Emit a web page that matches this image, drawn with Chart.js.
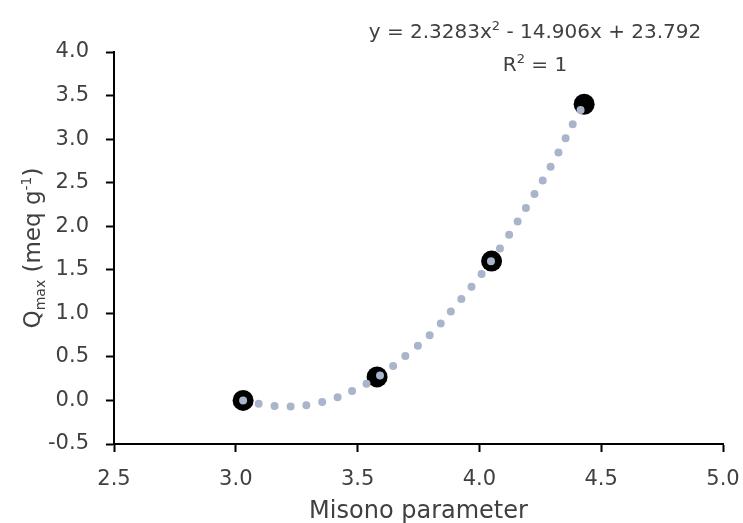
<!DOCTYPE html>
<html lang="en">
<head>
    <meta charset="UTF-8">
    <title>Qmax vs Misono parameter</title>
    <style>
        body {
            margin: 0;
            background-color: #FFFFFF;
        }
        #chartBox {
            width: 743px;
            height: 523px;
        }
    </style>
    <script src="https://cdn.jsdelivr.net/npm/chart.js"></script>
</head>
<body>
    <div id="chartBox">
        <canvas id="myChart"></canvas>
    </div>

    <script>
        // Messpunkte
        var misono = [3.03, 3.58, 4.05, 4.43];
        var qmax = [0.00, 0.27, 1.60, 3.40];

        var trendX = [3.03, 3.10, 3.20, 3.30, 3.40, 3.50, 3.60, 3.70, 3.80, 3.90, 4.00, 4.10, 4.20, 4.30, 4.40, 4.43];
        var trendY = [0.00, -0.04, -0.07, -0.05, 0.02, 0.14, 0.30, 0.52, 0.76, 1.08, 1.42, 1.81, 2.25, 2.72, 3.26, 3.40];

        // Achsenbeschriftung
        var xTicks = [2.5, 3.0, 3.5, 4.0, 4.5, 5.0];
        var yTicks = [-0.5, 0.0, 0.5, 1.0, 1.5, 2.0, 2.5, 3.0, 3.5, 4.0];

        var FONT = '"DejaVu Sans", sans-serif';
        var TEXT = '#404040';

        // Text mit Hoch-/Tiefstellung zeichnen
        function drawRuns(ctx, runs, x, y, align) {
            var total = 0;
            runs.forEach(function(r) {
                ctx.font = r.size + 'px ' + FONT;
                r.w = ctx.measureText(r.t).width;
                total += r.w;
            });
            var cx = align === 'center' ? x - total / 2 : x;
            ctx.textBaseline = 'alphabetic';
            ctx.textAlign = 'left';
            runs.forEach(function(r) {
                ctx.font = r.size + 'px ' + FONT;
                ctx.fillText(r.t, cx, y + (r.dy || 0));
                cx += r.w;
            });
        }

        var labelPlugin = {
            id: 'labels',
            afterDraw: function(chart) {
                var ctx = chart.ctx;
                var area = chart.chartArea;
                ctx.save();
                ctx.fillStyle = TEXT;

                // Gleichung
                drawRuns(ctx, [
                    {t: 'y = 2.3283x', size: 20},
                    {t: '2', size: 13, dy: -8},
                    {t: ' - 14.906x + 23.792', size: 20}
                ], 535, 38, 'center');
                drawRuns(ctx, [
                    {t: 'R', size: 20},
                    {t: '2', size: 13, dy: -8},
                    {t: ' = 1', size: 20}
                ], 535, 71, 'center');

                // x-Achsentitel
                drawRuns(ctx, [{t: 'Misono parameter', size: 24}], (area.left + area.right) / 2, 518, 'center');

                // y-Achsentitel (gedreht)
                ctx.translate(40, (area.top + area.bottom) / 2);
                ctx.rotate(-Math.PI / 2);
                drawRuns(ctx, [
                    {t: 'Q', size: 23},
                    {t: 'max', size: 14, dy: 5},
                    {t: ' (meq g', size: 23},
                    {t: '-1', size: 14, dy: -9},
                    {t: ')', size: 23}
                ], 0, 0, 'center');
                ctx.restore();
            }
        };

        var trendData = trendX.map(function(x, i) { return {x: x, y: trendY[i]}; });
        var pointData = misono.map(function(x, i) { return {x: x, y: qmax[i]}; });

        var ctx = document.getElementById('myChart').getContext('2d');
        var myChart = new Chart(ctx, {
            type: 'scatter',
            data: {
                datasets: [{
                    label: 'Trend',
                    data: trendData,
                    showLine: true,
                    borderColor: '#A9B5CB',
                    borderWidth: 8,
                    borderDash: [0, 16],
                    borderCapStyle: 'round',
                    tension: 0.4,
                    pointRadius: 0,
                    order: 0
                }, {
                    label: 'Qmax',
                    data: pointData,
                    backgroundColor: '#000000',
                    borderColor: '#000000',
                    pointRadius: 10.5,
                    borderWidth: 0,
                    order: 1
                }]
            },
            options: {
                responsive: true,
                maintainAspectRatio: false,
                animation: false,
                layout: {
                    padding: {left: 0, right: 20, top: 52, bottom: 0}
                },
                plugins: {
                    legend: {display: false},
                    tooltip: {enabled: false}
                },
                scales: {
                    x: {
                        type: 'linear',
                        min: xTicks[0],
                        max: xTicks[xTicks.length - 1],
                        afterBuildTicks: function(s) { s.ticks = xTicks.map(function(v) { return {value: v}; }); },
                        afterFit: function(s) {
                            s.height = 79;
                            s.paddingLeft = 0;
                            s.paddingRight = 0;
                        },
                        grid: {
                            drawOnChartArea: false,
                            drawTicks: true,
                            tickLength: 8,
                            tickWidth: 2,
                            tickColor: '#000000'
                        },
                        border: {display: true, color: '#000000', width: 2},
                        ticks: {
                            color: TEXT,
                            font: {family: FONT, size: 21},
                            padding: 15,
                            maxRotation: 0,
                            callback: function(v) { return v.toFixed(1); }
                        }
                    },
                    y: {
                        type: 'linear',
                        min: yTicks[0],
                        max: yTicks[yTicks.length - 1],
                        afterBuildTicks: function(s) { s.ticks = yTicks.map(function(v) { return {value: v}; }); },
                        afterFit: function(s) { s.width = 114; },
                        grid: {
                            drawOnChartArea: false,
                            drawTicks: true,
                            tickLength: 8,
                            tickWidth: 2,
                            tickColor: '#000000'
                        },
                        border: {display: true, color: '#000000', width: 2},
                        ticks: {
                            color: TEXT,
                            font: {family: FONT, size: 21},
                            padding: 17,
                            callback: function(v) { return v.toFixed(1); }
                        }
                    }
                }
            },
            plugins: [labelPlugin]
        });
    </script>
</body>
</html>
